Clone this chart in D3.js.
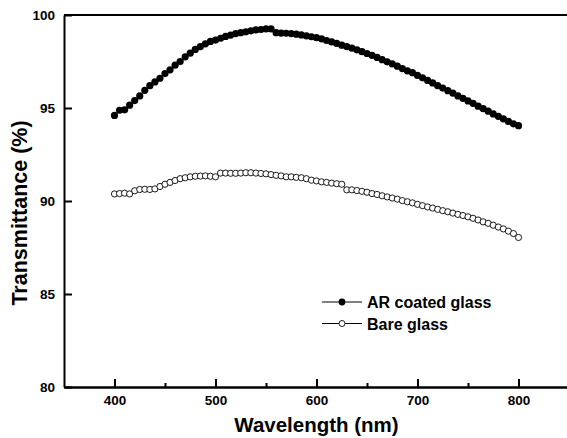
<!DOCTYPE html>
<html lang="en">
<head>
	<meta charset="utf-8">
	<title>Transmittance</title>
	<script type="text/javascript" src="https://d3js.org/d3.v7.min.js" charset="utf-8"></script>
	<style type="text/css">
		body { margin: 0; background: #fff; }
		.axis path,
		.axis line {
		    fill: none;
		    stroke: black;
		    stroke-width: 2;
		}
		.axis text {
		    font-family: "Liberation Sans", Arial, sans-serif;
		    font-weight: bold;
		    font-size: 13.5px;
		    fill: black;
		}
		.title {
		    font-family: "Liberation Sans", Arial, sans-serif;
		    font-weight: bold;
		    font-size: 20px;
		}
		.legend text {
		    font-family: "Liberation Sans", Arial, sans-serif;
		    font-weight: bold;
		    font-size: 16px;
		}
	</style>
</head>
<body>
<script type="text/javascript">

// wavelength every 5 nm from 400 to 800
var wavelength = d3.range(400, 801, 5);

// AR coated glass (%)
var arCoated = [
	94.60, 94.88, 94.90, 95.15, 95.40, 95.65, 95.95, 96.20, 96.40, 96.60,
	96.85, 97.05, 97.30, 97.50, 97.75, 97.95, 98.15, 98.30, 98.45, 98.58,
	98.65, 98.75, 98.85, 98.92, 99.00, 99.05, 99.10, 99.15, 99.20, 99.22,
	99.25, 99.25, 99.05, 99.03, 99.02, 99.00, 98.97, 98.93, 98.88, 98.83,
	98.78, 98.72, 98.63, 98.55, 98.47, 98.38, 98.30, 98.22, 98.13, 98.03,
	97.93, 97.83, 97.72, 97.60, 97.48, 97.37, 97.25, 97.12, 97.00, 96.90,
	96.75, 96.62, 96.48, 96.35, 96.20, 96.07, 95.93, 95.80, 95.65, 95.52,
	95.38, 95.25, 95.10, 94.97, 94.83, 94.68, 94.55, 94.42, 94.28, 94.15,
	94.05
];

// Bare glass (%)
var bareGlass = [
	90.38, 90.40, 90.42, 90.38, 90.55, 90.62, 90.63, 90.62, 90.65, 90.78,
	90.90, 91.00, 91.10, 91.20, 91.25, 91.30, 91.33, 91.34, 91.35, 91.33,
	91.30, 91.50, 91.50, 91.49, 91.49, 91.50, 91.52, 91.52, 91.50, 91.48,
	91.46, 91.42, 91.38, 91.35, 91.30, 91.30, 91.27, 91.25, 91.20, 91.12,
	91.08, 91.03, 91.00, 90.96, 90.93, 90.90, 90.60, 90.60, 90.56, 90.52,
	90.47, 90.40, 90.35, 90.28, 90.22, 90.16, 90.10, 90.02, 89.96, 89.90,
	89.82, 89.75, 89.68, 89.62, 89.55, 89.48, 89.42, 89.35, 89.28, 89.22,
	89.15, 89.07, 88.98, 88.88, 88.80, 88.70, 88.60, 88.50, 88.38, 88.25,
	88.04
];

var seriesNames = ["AR coated glass", "Bare glass"];
var xTicks = [400, 500, 600, 700, 800];
var xMinorTicks = [450, 550, 650, 750];
var yTicks = [80, 85, 90, 95, 100];

// Define margins
var margin = {top: 15, right: 0, bottom: 51, left: 64};
var outer_width = 567;
var outer_height = 438;
var svg_height = outer_height - margin.top - margin.bottom;
var svg_width = 505;

var xScale = d3.scaleLinear()
				.domain([350, 850])
				.range([0, svg_width]);

var yScale = d3.scaleLinear()
				.domain([80, 100])
				.range([svg_height, 0]);

var xAxis = d3.axisBottom()
				.scale(xScale)
				.tickValues(xTicks)
				.tickSizeInner(-8)
				.tickSizeOuter(0)
				.tickPadding(8);

var xMinor = d3.axisBottom()
				.scale(xScale)
				.tickValues(xMinorTicks)
				.tickSizeInner(-4)
				.tickSizeOuter(0)
				.tickFormat("");

var yAxis = d3.axisLeft()
				.scale(yScale)
				.tickValues(yTicks)
				.tickSizeInner(-8)
				.tickSizeOuter(0)
				.tickPadding(9);

var svg = d3.select("body")
			.append("svg")
			.attr("width", outer_width)
			.attr("height", outer_height)
			.append("g")
			.attr("transform", "translate(" + margin.left + "," + margin.top + ")");

// top frame line
svg.append("line")
	.attr("x1", 0)
	.attr("x2", svg_width)
	.attr("y1", 0)
	.attr("y2", 0)
	.attr("stroke", "black")
	.attr("stroke-width", 2);

svg.append("g")
	.attr("class", "axis")
	.attr("transform", "translate(0," + svg_height + ")")
	.call(xAxis);

svg.append("g")
	.attr("class", "axis")
	.attr("transform", "translate(0," + svg_height + ")")
	.call(xMinor);

svg.append("g")
	.attr("class", "axis")
	.call(yAxis);

// axis titles
svg.append("text")
	.attr("class", "title")
	.attr("x", svg_width / 2)
	.attr("y", svg_height + 45)
	.attr("text-anchor", "middle")
	.style("font-size", "20.5px")
	.text("Wavelength (nm)");

svg.append("text")
	.attr("class", "title")
	.attr("transform", "translate(" + (-37) + "," + (svg_height / 2 + 12) + ") rotate(-90)")
	.attr("text-anchor", "middle")
	.style("font-size", "21.5px")
	.text("Transmittance (%)");

var line = d3.line()
	.x(function(d) { return xScale(d[0]); })
	.y(function(d) { return yScale(d[1]); });

var arData = wavelength.map(function(w, i) { return [w, arCoated[i]]; });
var bareData = wavelength.map(function(w, i) { return [w, bareGlass[i]]; });

// Bare glass
svg.append("path")
	.datum(bareData)
	.attr("d", line)
	.attr("fill", "none")
	.attr("stroke", "black")
	.attr("stroke-width", 1);

svg.append("g").selectAll("circle")
	.data(bareData)
	.enter().append("circle")
	.attr("cx", function(d) { return xScale(d[0]); })
	.attr("cy", function(d) { return yScale(d[1]); })
	.attr("r", 3.1)
	.attr("fill", "white")
	.attr("stroke", "black")
	.attr("stroke-width", 0.9);

// AR coated glass
svg.append("path")
	.datum(arData)
	.attr("d", line)
	.attr("fill", "none")
	.attr("stroke", "black")
	.attr("stroke-width", 1);

svg.append("g").selectAll("circle")
	.data(arData)
	.enter().append("circle")
	.attr("cx", function(d) { return xScale(d[0]); })
	.attr("cy", function(d) { return yScale(d[1]); })
	.attr("r", 3.6)
	.attr("fill", "black");

// legend
var legend = svg.append("g")
	.attr("class", "legend")
	.attr("transform", "translate(" + (322 - margin.left) + "," + (302 - margin.top) + ")");

var rows = legend.selectAll("g")
	.data(seriesNames)
	.enter().append("g")
	.attr("transform", function(d, i) { return "translate(0," + (i * 21.5) + ")"; });

rows.append("line")
	.attr("x1", 0)
	.attr("x2", 40)
	.attr("stroke", "black")
	.attr("stroke-width", 1);

rows.append("circle")
	.attr("cx", 20)
	.attr("cy", 0)
	.attr("r", function(d, i) { return i == 0 ? 3.4 : 3; })
	.attr("fill", function(d, i) { return i == 0 ? "black" : "white"; })
	.attr("stroke", "black")
	.attr("stroke-width", function(d, i) { return i == 0 ? 0 : 0.9; });

rows.append("text")
	.attr("x", 45)
	.attr("y", 6)
	.text(function(d) { return d; });

</script>
</body>
</html>
